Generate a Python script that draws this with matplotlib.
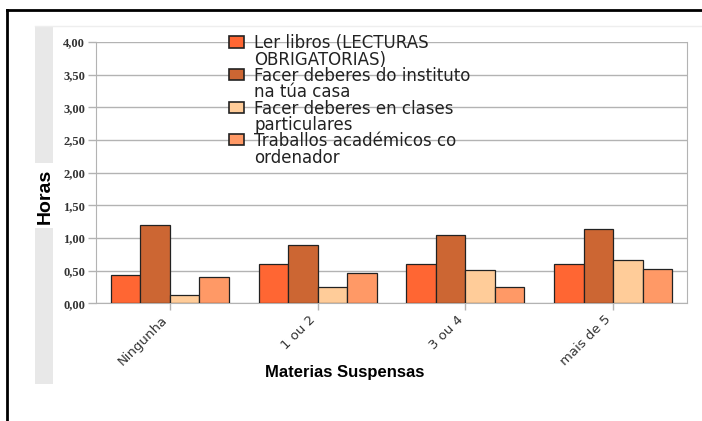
import matplotlib.pyplot as plt
import numpy as np
from matplotlib.patches import Rectangle
from matplotlib.lines import Line2D
from matplotlib.ticker import FuncFormatter
from matplotlib.transforms import blended_transform_factory, ScaledTranslation

# datos (horas medias segun materias suspensas)
categorias = ["Ningunha", "1 ou 2", "3 ou 4", "mais de 5"]
series = [
    "Ler libros (LECTURAS\nOBRIGATORIAS)",
    "Facer deberes do instituto\nna túa casa",
    "Facer deberes en clases\nparticulares",
    "Traballos académicos co\nordenador",
]
ler_libros = [0.44, 0.60, 0.60, 0.60]
deberes_casa = [1.20, 0.89, 1.04, 1.13]
clases_particulares = [0.12, 0.25, 0.51, 0.66]
traballos_ordenador = [0.41, 0.46, 0.25, 0.53]
cores = ["#FF6633", "#CC6633", "#FFCC99", "#FF9966"]

W, H = 702, 421
fig = plt.figure(figsize=(W / 100, H / 100), dpi=100)

# marco negro e banda gris da esquerda
fig.add_artist(Line2D([7 / W, 7 / W], [0, 1 - 10 / H], color="black", lw=2))
fig.add_artist(Line2D([7 / W, 1], [1 - 10 / H, 1 - 10 / H], color="black", lw=2))
fig.add_artist(Line2D([35 / W, 1], [1 - 26 / H, 1 - 26 / H], color="#eeeeee", lw=1))
fig.add_artist(Rectangle((35 / W, 1 - 163 / H), 18 / W, (163 - 26) / H,
                         transform=fig.transFigure, color="#e8e8e8", lw=0))
fig.add_artist(Rectangle((35 / W, 1 - 384 / H), 18 / W, (384 - 228) / H,
                         transform=fig.transFigure, color="#e8e8e8", lw=0))

ax = fig.add_axes([96 / W, 1 - 303.3 / H, (687 - 96) / W, (303.3 - 42) / H])

valores = [ler_libros, deberes_casa, clases_particulares, traballos_ordenador]
x = np.arange(len(categorias))
ancho = 0.2
for i, (vals, cor) in enumerate(zip(valores, cores)):
    ax.bar(x + (i - 1.5) * ancho, vals, ancho, color=cor, edgecolor="#222222",
           linewidth=0.9, zorder=3)

ax.set_xlim(-0.5, len(categorias) - 0.5)
ax.set_ylim(0, 4)
ax.set_yticks(np.arange(0, 4.01, 0.5))
ax.yaxis.set_major_formatter(FuncFormatter(lambda v, p: f"{v:.2f}".replace(".", ",")))
ax.yaxis.grid(True, color="#b3b3b3", lw=1, zorder=0)
ax.set_axisbelow(True)

for s in ["left", "bottom", "right"]:
    ax.spines[s].set_color("#b3b3b3")
ax.spines["top"].set_visible(False)

ax.tick_params(axis="y", length=6, width=1, color="#b3b3b3", pad=2)
ax.tick_params(axis="x", length=5, width=1, color="#b3b3b3", pad=2)
for t in ax.get_yticklabels():
    t.set_fontfamily("Liberation Serif")
    t.set_fontweight("bold")
    t.set_fontsize(9)
    t.set_color("#333333")

ax.set_xticks(x)
ax.set_xticklabels(categorias, rotation=45, ha="right", rotation_mode="anchor",
                   fontsize=9.5, color="#333333", family="DejaVu Sans")
desp = ScaledTranslation(-9 / 100, 0, fig.dpi_scale_trans)
for t in ax.get_xticklabels():
    t.set_transform(t.get_transform() + desp)

fig.text(345 / W, 1 - 373 / H, "Materias Suspensas", ha="center", va="center",
         fontsize=12, fontweight="bold", family=["Liberation Sans Narrow", "Liberation Sans"])
fig.text(45 / W, 1 - 196 / H, "Horas", ha="center", va="center", rotation=90,
         fontsize=14, fontweight="bold", family=["Liberation Sans Narrow", "Liberation Sans"])

# lenda sen marco, cada entrada sobre unha lina da grade
tr = blended_transform_factory(ax.transAxes, ax.transData)
hx = (229 - 96) / 591
for i, (nome, cor) in enumerate(zip(series, cores)):
    y = 4.0 - 0.5 * i
    ax.add_patch(Rectangle((hx, y - 5.5 / 65.3), 15 / 591, 11 / 65.3, transform=tr,
                           facecolor=cor, edgecolor="#222222", lw=1.2, zorder=4,
                           clip_on=False))
    ax.text(hx + 25 / 591, y, nome,
            transform=tr + ScaledTranslation(0, 7.5 / 100, fig.dpi_scale_trans),
            va="top", ha="left", fontsize=12, family="DejaVu Sans",
            linespacing=0.88, color="#222222", zorder=4)

fig.savefig("out.png", dpi=100)
